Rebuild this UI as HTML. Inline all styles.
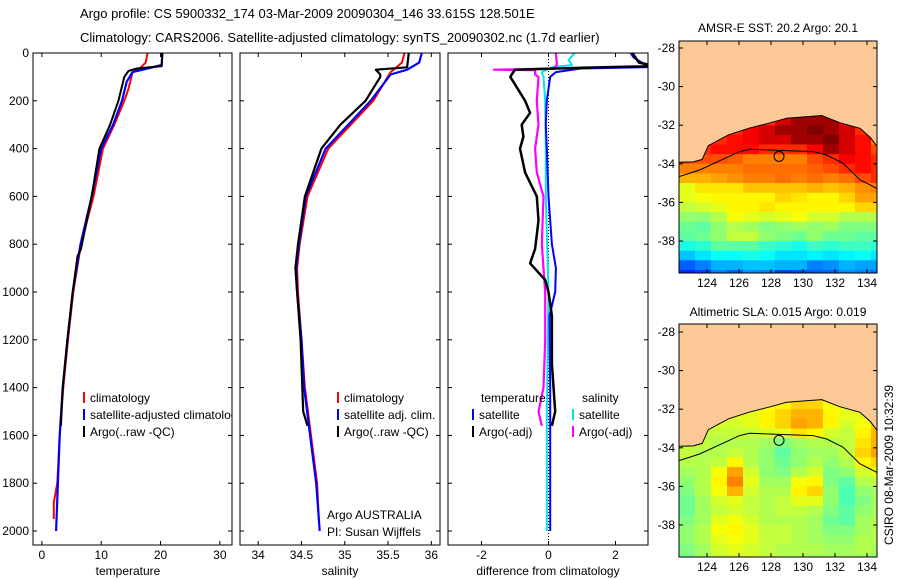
<!DOCTYPE html>
<html><head><meta charset="utf-8"><style>
html,body{margin:0;padding:0;background:#fff;}
svg{display:block;font-family:"Liberation Sans",sans-serif;}
text{font-size:12px;fill:#000;}
</style></head><body>
<svg id="fig" width="900" height="580" viewBox="0 0 900 580" xmlns="http://www.w3.org/2000/svg">
<text x="80" y="18" style="font-size:13px">Argo profile: CS 5900332_174 03-Mar-2009 20090304_146 33.615S 128.501E</text>
<text x="80" y="42" style="font-size:13px">Climatology: CARS2006. Satellite-adjusted climatology: synTS_20090302.nc (1.7d earlier)</text>
<g id="panels"></g>
<g id="maps"></g>
<text transform="translate(893,465) rotate(-90)" text-anchor="middle">CSIRO 08-Mar-2009 10:32:39</text>
</svg>
<script>
// ---------- profile data ----------
const depthTicks=[0,200,400,600,800,1000,1200,1400,1600,1800,2000];
const tTicks=[0,10,20,30];
const sTicks=[34,34.5,35,35.5,36];
const sTickLabels=["34","34.5","35","35.5","36"];
const dTicks=[-2,0,2];

const tClimD=[0,40,60,80,150,200,300,400,600,800,1000,1200,1400,1600,1800,1880,1950];
const tClimV=[17.8,17.5,16.7,15.3,14.6,13.9,12.2,10.3,8.7,6.6,5.3,4.4,3.6,3.0,2.6,2.0,2.0];
const tSatD=[0,50,65,80,120,200,300,400,600,800,1000,1200,1400,1600,1800,2000];
const tSatV=[20.3,20.2,17.8,15.3,14.3,13.5,12.0,10.0,8.4,6.5,5.2,4.3,3.5,3.0,2.7,2.4];
const tArgoD=[0,55,65,75,100,200,300,400,600,820,850,1000,1200,1400,1560];
const tArgoV=[20.3,20.2,16.0,14.6,13.9,12.9,11.5,9.7,8.4,6.6,6.0,5.2,4.3,3.5,3.2];

const sClimD=[0,40,80,200,300,400,600,800,900,1000,1200,1400,1600,1800,1950];
const sClimV=[35.69,35.66,35.53,35.33,35.07,34.81,34.57,34.48,34.45,34.46,34.5,34.54,34.61,34.68,34.7];
const sSatD=[0,40,70,90,200,300,400,600,800,900,1000,1200,1400,1600,1800,2000];
const sSatV=[35.89,35.86,35.72,35.53,35.3,35.04,34.78,34.55,34.47,34.44,34.45,34.5,34.53,34.6,34.67,34.71];
const sArgoD=[0,60,70,90,100,200,300,400,600,800,900,1000,1200,1400,1500,1560];
const sArgoV=[35.74,35.72,35.36,35.41,35.41,35.24,34.95,34.73,34.54,34.46,34.43,34.45,34.49,34.51,34.52,34.57];

const dTSatD=[0,20,50,58,65,80,100,200,300,400,600,800,900,1000,1100,1400,1700,2000];
const dTSatV=[2.45,2.55,2.9,3.2,0.97,0.22,0.05,-0.05,-0.08,-0.05,0.0,0.1,0.22,0.2,0.03,0.05,0.05,0.05];
const dTArgoD=[0,40,55,62,70,90,100,120,200,250,300,350,400,500,600,700,820,880,950,1000,1100,1300,1500,1560];
const dTArgoV=[2.5,2.7,3.2,1.0,-1.0,-1.1,-1.14,-1.05,-0.7,-0.55,-0.8,-0.75,-0.85,-0.7,-0.35,-0.3,-0.4,-0.55,-0.1,0.0,0.1,0.1,0.2,0.1];
const dSSatD=[0,30,50,60,80,100,200,400,600,1000,1500,2000];
const dSSatV=[0.78,0.6,0.7,0.1,-0.2,-0.15,-0.1,-0.08,-0.08,0.0,-0.05,-0.05];
const dSArgoD=[0,50,65,70,72,90,100,200,300,400,500,600,800,1000,1200,1400,1500,1560];
const dSArgoV=[0.22,0.25,0.14,-1.63,-0.4,-0.4,-0.3,-0.35,-0.3,-0.4,-0.35,-0.15,-0.2,-0.1,-0.1,-0.15,-0.3,-0.2];

// ---------- map data ----------
const mapLons=[122.25,123.25,124.25,125.25,126.25,127.25,128.25,129.25,130.25,131.25,132.25,133.25,134.25];
const mapLats=[-31.5,-32,-32.5,-33,-33.5,-34,-34.5,-35,-35.5,-36,-36.5,-37,-37.5,-38,-38.5,-39,-39.5];
const sstGrid=[
[21,21,21,21,21,21,21.5,21.8,21.8,21.8,21.3,21,20],
[21,21,21,21,21.3,21.5,21.8,21.8,22,21.8,21.5,21,20.5],
[21,21,21,21.2,21.3,21.5,21.5,21.8,21.8,22,21.5,21.2,20.5],
[21,21,21.2,21.2,21.2,21,21,21,21.3,21.8,21.5,21.2,20.8],
[20.8,20.8,20.8,20.7,20.5,20.5,20.5,20.5,20.8,21,21.3,21.2,21],
[20.5,20.5,20.5,20.5,20.6,20.6,20.6,20.6,20.7,20.8,21,21.2,21],
[20.2,20.2,20.3,20.4,20.5,20.5,20.6,20.5,20.6,20.5,20.6,20.8,21],
[19.6,19.9,19.9,19.9,20.1,20.1,20.1,20.1,20.2,20.1,20.2,20.4,20.5],
[19.6,19.7,19.8,19.8,19.8,19.8,20,19.9,19.8,19.8,20,20.3,20.3],
[19.4,19.5,19.6,19.8,19.8,19.9,19.8,19.8,19.8,19.8,19.8,20,20],
[19.1,19.1,19.3,19.7,19.6,19.5,19.6,19.7,19.5,19.5,19.3,19.3,19.3],
[18.9,18.8,19.1,19.3,19.2,19,19.1,19.2,19.1,19.2,19,19,19],
[18.8,18.9,19.1,19.4,19.4,19.1,19,18.9,19.1,18.9,18.9,18.8,18.8],
[18.4,18.5,18.8,18.8,18.8,18.6,18.5,18.4,18.6,18.5,18.6,18.6,18.5],
[17.9,18.1,18.3,18.3,18.4,18.3,18.1,18.1,18.2,18.1,18.2,18.3,18.1],
[17.3,17.5,17.8,17.8,17.9,17.9,17.8,17.8,17.5,17.6,17.8,17.7,17.7],
[17,17.1,17.5,17.3,17.6,17.5,17.1,17.2,17.3,17.3,17.6,17.5,17.4]];
const slaGrid=[
[.05,.05,.05,.06,.06,.07,.08,.1,.1,.07,.06,.06,.06],
[.05,.05,.05,.06,.06,.08,.1,.12,.12,.08,.06,.06,.08],
[.05,.05,.05,.05,.06,.08,.1,.13,.12,.08,.05,.07,.1],
[.04,.04,.04,.04,.04,.05,.06,.09,.08,.05,.04,.08,.12],
[.04,.04,.03,.03,.03,.02,0,.02,.03,.03,.04,.09,.12],
[.04,.03,.03,.04,.03,.01,-.02,.01,.02,.02,.04,.1,.13],
[.03,.03,.04,.08,.03,.01,-.01,.01,.03,.01,.03,.08,.1],
[.02,.03,.07,.13,.05,.01,0,.03,.05,0,.01,.05,.06],
[.01,.03,.08,.15,.06,.02,.02,.07,.08,0,-.02,.03,.04],
[0,.03,.07,.12,.05,.03,.03,.08,.1,.01,-.03,.01,.02],
[-.01,.02,.05,.06,.04,.03,.04,.06,.06,.01,-.03,0,.02],
[-.01,.02,.04,.05,.04,.03,.04,.04,.03,0,-.02,.01,.02],
[0,.02,.06,.07,.05,.03,.03,.03,.02,-.01,-.02,.02,.03],
[.01,.03,.07,.08,.06,.04,.04,.03,.02,0,0,.02,.03],
[.01,.03,.06,.07,.06,.04,.04,.03,.02,.01,.01,.03,.03],
[0,.02,.05,.06,.05,.04,.03,.03,.03,.02,.02,.03,.02],
[-.01,.02,.04,.05,.05,.04,.03,.03,.02,.02,.02,.02,.01]];
const coastLon=[122.25,123.15,123.7,124.08,125.33,126.6,127.83,128.98,129.8,131.17,132.3,133.56,134.2,134.64];
const coastLat=[-33.92,-33.9,-33.77,-33.06,-32.5,-32.16,-31.9,-31.64,-31.59,-31.5,-31.87,-32.16,-32.63,-33.11];
const isoLon=[122.25,123.54,126.04,126.67,130.63,131.46,132.5,133.56,134.64];
const isoLat=[-34.67,-34.32,-33.37,-33.25,-33.37,-33.54,-33.97,-34.83,-35.28];
const lonTicks=[124,126,128,130,132,134];
const latTicks=[-28,-30,-32,-34,-36,-38];
const argoLon=128.501, argoLat=-33.615;

const NS="http://www.w3.org/2000/svg";
function mk(tag,attrs,parent){const e=document.createElementNS(NS,tag);for(const k in attrs)e.setAttribute(k,attrs[k]);parent.appendChild(e);return e;}

const Y0=53, YS=0.239, YB=545;
const yD=d=>Y0+d*YS;
const panelsG=document.getElementById('panels');
const panels=[
 {name:'temperature-panel',x0:33,x1:232,xmin:-1.5,xmax:32.05,ticks:tTicks,labels:tTicks.map(String),title:'temperature',tx:128,showY:true,
  series:[[tClimD,tClimV,'#ff0000',2,'climatology-line'],[tSatD,tSatV,'#0000ff',2.2,'satellite-adjusted-line'],[tArgoD,tArgoV,'#000',2,'argo-line']]},
 {name:'salinity-panel',x0:240,x1:440,xmin:33.79,xmax:36.1,ticks:sTicks,labels:sTickLabels,title:'salinity',tx:340,
  series:[[sClimD,sClimV,'#ff0000',2,'climatology-line'],[sSatD,sSatV,'#0000ff',2.2,'satellite-adjusted-line'],[sArgoD,sArgoV,'#000',2.2,'argo-line']]},
 {name:'difference-panel',x0:448,x1:648,xmin:-3.0,xmax:2.97,ticks:dTicks,labels:dTicks.map(String),title:'difference from climatology',tx:548,dotted:true,
  series:[[dSSatD,dSSatV,'#00e5ee',2,'salinity-satellite-line'],[dSArgoD,dSArgoV,'#ff00ff',2.2,'salinity-argo-line'],[dTSatD,dTSatV,'#0000ff',2,'temperature-satellite-line'],[dTArgoD,dTArgoV,'#000',2.5,'temperature-argo-line']]}
];
panels.forEach((p,pi)=>{
  const g=mk('g',{},panelsG);
  
  
  const cid='clip'+pi;
  const cp=mk('clipPath',{id:cid},g);mk('rect',{x:p.x0,y:Y0-1,width:p.x1-p.x0,height:YB-Y0+1},cp);
  const xS=v=>p.x0+(v-p.xmin)/(p.xmax-p.xmin)*(p.x1-p.x0);
  if(p.dotted){const l=mk('line',{x1:xS(0),x2:xS(0),y1:Y0,y2:YB,stroke:'#000','stroke-dasharray':'1,2','stroke-width':1},g);
    }
  const sg=mk('g',{'clip-path':'url(#'+cid+')'},g);
  p.series.forEach(s=>{
    const pts=s[0].map((d,i)=>xS(s[1][i]).toFixed(1)+','+yD(d).toFixed(1)).join(' ');
    const pl=mk('polyline',{points:pts,fill:'none',stroke:s[2],'stroke-width':s[3],'stroke-linejoin':'round'},sg);
    
    
  });
  const fr=mk('rect',{x:p.x0,y:Y0,width:p.x1-p.x0,height:YB-Y0,fill:'none',stroke:'#000','stroke-width':1},g);
  
  depthTicks.forEach(d=>{
    mk('line',{x1:p.x0,x2:p.x0+4,y1:yD(d),y2:yD(d),stroke:'#000'},g);
    mk('line',{x1:p.x1-4,x2:p.x1,y1:yD(d),y2:yD(d),stroke:'#000'},g);
    if(p.showY){const t=mk('text',{x:p.x0-4,y:yD(d)+4,'text-anchor':'end'},g);t.textContent=d;
      }
  });
  p.ticks.forEach((v,i)=>{
    const x=xS(v);
    mk('line',{x1:x,x2:x,y1:YB,y2:YB-4,stroke:'#000'},g);
    mk('line',{x1:x,x2:x,y1:Y0,y2:Y0+4,stroke:'#000'},g);
    const t=mk('text',{x:x,y:559,'text-anchor':'middle'},g);t.textContent=p.labels[i];
    
  });
  const tt=mk('text',{x:p.tx,y:575,'text-anchor':'middle'},g);tt.textContent=p.title;
  
});
// legends
function legend(x,y,color,label,name,clip){
  const g=mk('g',{},panelsG);
  
  
  if(color)mk('line',{x1:x,x2:x,y1:y-10,y2:y+1,stroke:color,'stroke-width':2},g);
  const t=mk('text',{x:x+6,y:y},g);t.textContent=label;
  if(clip)t.setAttribute('clip-path','url(#clip0)');
}
legend(84,402,'#ff0000','climatology','legend-climatology');
legend(84,419,'#0000ff','satellite-adjusted climatology','legend-satellite-adjusted',true);
legend(84,436,'#000','Argo(..raw -QC)','legend-argo');
legend(338,402,'#ff0000','climatology','legend-climatology');
legend(338,419,'#0000ff','satellite adj. clim.','legend-satellite-adjusted');
legend(338,436,'#000','Argo(..raw -QC)','legend-argo');
legend(475,402,null,'temperature','legend-temperature-heading');
legend(473,419,'#0000ff','satellite','legend-temperature-satellite');
legend(473,436,'#000','Argo(-adj)','legend-temperature-argo');
legend(576,402,null,'salinity','legend-salinity-heading');
legend(573,419,'#00e5ee','satellite','legend-salinity-satellite');
legend(573,436,'#ff00ff','Argo(-adj)','legend-salinity-argo');
{const t=mk('text',{x:327,y:519},panelsG);t.textContent='Argo AUSTRALIA';
 const t2=mk('text',{x:327,y:536},panelsG);t2.textContent='PI: Susan Wijffels';}

// ---------- maps ----------
function jet(t){t=Math.max(0,Math.min(1,t));
  const r=Math.max(0,Math.min(1,Math.min(4*t-1.5,-4*t+4.5)));
  const g=Math.max(0,Math.min(1,Math.min(4*t-0.5,-4*t+3.5)));
  const b=Math.max(0,Math.min(1,Math.min(4*t+0.5,-4*t+2.5)));
  return 'rgb('+Math.round(r*255)+','+Math.round(g*255)+','+Math.round(b*255)+')';}
const mapsG=document.getElementById('maps');
const maps=[
 {name:'sst-map',top:41,bot:273,lat28:48,grid:sstGrid,vmin:16,vmax:22,title:'AMSR-E SST: 20.2 Argo: 20.1',ty:32},
 {name:'sla-map',top:324,bot:557,lat28:332,grid:slaGrid,vmin:-0.3,vmax:0.3,title:'Altimetric SLA: 0.015 Argo: 0.019',ty:316}
];
const MX0=679,MX1=877;
const xL=lon=>707+(lon-124)*16;
maps.forEach((m,mi)=>{
  const g=mk('g',{},mapsG);
  
  
  const yL=lat=>m.lat28+(-28-lat)*19.3;
  const cid='mclip'+mi;
  const cp=mk('clipPath',{id:cid},g);mk('rect',{x:MX0,y:m.top,width:MX1-MX0,height:m.bot-m.top},cp);
  const cg=mk('g',{'clip-path':'url(#'+cid+')'},g);
  mk('rect',{x:MX0,y:m.top,width:MX1-MX0,height:m.bot-m.top,fill:jet((m.grid[16][0]-m.vmin)/(m.vmax-m.vmin))},cg);
  mapLats.forEach((lat,i)=>mapLons.forEach((lon,j)=>{
    const x=xL(lon),y=yL(lat);
    const c=mk('rect',{x:x.toFixed(1),y:y.toFixed(1),width:16.5,height:10.2,fill:jet((m.grid[i][j]-m.vmin)/(m.vmax-m.vmin))},cg);
    
    
  }));
  let land='M'+MX0+','+m.top+' ';
  coastLon.forEach((lo,i)=>{land+='L'+xL(lo).toFixed(1)+','+yL(coastLat[i]).toFixed(1)+' ';});
  land+='L'+MX1+','+yL(-33.11).toFixed(1)+' L'+MX1+','+m.top+' Z';
  const lp=mk('path',{d:land,fill:'#fcc896',stroke:'#000','stroke-width':1},cg);
  
  const iso=mk('polyline',{points:isoLon.map((lo,i)=>xL(lo).toFixed(1)+','+yL(isoLat[i]).toFixed(1)).join(' '),fill:'none',stroke:'#000','stroke-width':1},cg);
  
  const c=mk('circle',{cx:xL(argoLon),cy:yL(argoLat),r:5,fill:'none',stroke:'#000','stroke-width':1},g);
  
  mk('rect',{x:MX0,y:m.top,width:MX1-MX0,height:m.bot-m.top,fill:'none',stroke:'#000'},g);
  lonTicks.forEach(lo=>{const x=xL(lo);
    mk('line',{x1:x,x2:x,y1:m.top,y2:m.top+4,stroke:'#000'},g);
    mk('line',{x1:x,x2:x,y1:m.bot,y2:m.bot-4,stroke:'#000'},g);
    const t=mk('text',{x:x,y:m.bot+14,'text-anchor':'middle'},g);t.textContent=lo;
    });
  latTicks.forEach(la=>{const y=yL(la);
    mk('line',{x1:MX0,x2:MX0+4,y1:y,y2:y,stroke:'#000'},g);
    mk('line',{x1:MX1-4,x2:MX1,y1:y,y2:y,stroke:'#000'},g);
    const t=mk('text',{x:MX0-4,y:y+4,'text-anchor':'end'},g);t.textContent=la;
    });
  const tt=mk('text',{x:778,y:m.ty,'text-anchor':'middle'},g);tt.textContent=m.title;
  
});
</script>
</body></html>
